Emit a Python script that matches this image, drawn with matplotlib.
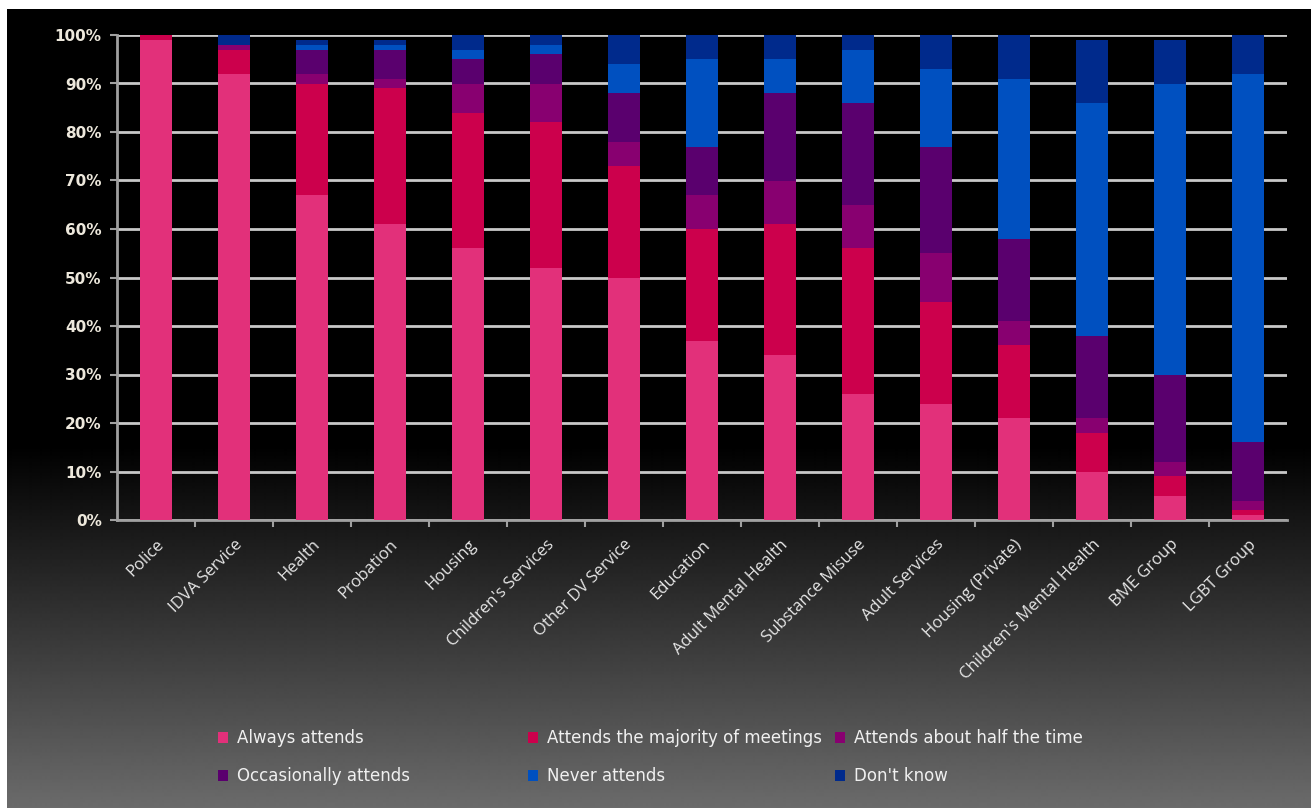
import numpy as np
import matplotlib
matplotlib.use("Agg")
import matplotlib.pyplot as plt
from matplotlib.patches import Patch
from matplotlib.ticker import FixedLocator, PercentFormatter

agencies = ["Police", "IDVA Service", "Health", "Probation", "Housing",
            "Children's Services", "Other DV Service", "Education",
            "Adult Mental Health", "Substance Misuse", "Adult Services",
            "Housing (Private)", "Children's Mental Health", "BME Group",
            "LGBT Group"]

always = [99, 92, 67, 61, 56, 52, 50, 37, 34, 26, 24, 21, 10, 5, 1]
majority = [1, 5, 23, 28, 28, 30, 23, 23, 27, 30, 21, 15, 8, 4, 1]
half = [0, 1, 2, 2, 6, 8, 5, 7, 9, 9, 10, 5, 3, 3, 2]
occasionally = [0, 0, 5, 6, 5, 6, 10, 10, 18, 21, 22, 17, 17, 18, 12]
never = [0, 0, 1, 1, 2, 2, 6, 18, 7, 11, 16, 33, 48, 60, 76]
dont_know = [0, 2, 1, 1, 3, 2, 6, 5, 5, 3, 7, 9, 13, 9, 8]

series = [
    ("Always attends", always, "#E2307A"),
    ("Attends the majority of meetings", majority, "#CC004C"),
    ("Attends about half the time", half, "#880070"),
    ("Occasionally attends", occasionally, "#5A006E"),
    ("Never attends", never, "#0050C0"),
    ("Don't know", dont_know, "#002A8C"),
]

W, H = 1311, 808
fig = plt.figure(figsize=(W / 100, H / 100), dpi=100, facecolor="white")

# dark gradient panel behind everything
bg = fig.add_axes([7 / W, 0, 1 - 7 / W, 1 - 9 / H], zorder=0)
rows = np.arange(9, H)
shade = np.clip((rows - 445) / (H - 445), 0, 1) * 0.42
grad = np.repeat(shade[:, None], 2, axis=1)
bg.imshow(grad, cmap="gray", vmin=0, vmax=1, aspect="auto",
          extent=[0, 1, 0, 1], interpolation="bilinear")
bg.set_axis_off()

ax = fig.add_axes([117 / W, 1 - 520 / H, (1287 - 117) / W, (520 - 35) / H], zorder=1)
ax.patch.set_alpha(0)

x = np.arange(len(agencies))
bottom = np.zeros(len(agencies))
for name, vals, col in series:
    ax.bar(x, vals, 0.4, bottom=bottom, color=col, label=name, zorder=3)
    bottom += np.array(vals)

ax.set_xlim(-0.5, len(agencies) - 0.5)
ax.set_ylim(0, 100)
ax.yaxis.set_major_locator(FixedLocator(np.arange(0, 101, 10)))
ax.yaxis.set_major_formatter(PercentFormatter(decimals=0))
ax.grid(axis="y", color="#C8C8C8", lw=2, zorder=1)

for s in ["top", "right"]:
    ax.spines[s].set_visible(False)
for s in ["left", "bottom"]:
    ax.spines[s].set_color("#A0A0A0")
    ax.spines[s].set_linewidth(2)

ax.set_xticks(x)
ax.set_xticklabels(agencies, rotation=45, ha="right", rotation_mode="anchor",
                   color="#E6E6E6", fontsize=12, family="Open Sans")
ax.tick_params(axis="x", length=0, pad=12)
ax.set_xticks(np.arange(0.5, len(agencies) - 0.5, 1), minor=True)
ax.tick_params(axis="x", which="minor", length=5, width=1.5, color="#A0A0A0")
ax.tick_params(axis="y", length=5, width=1.5, color="#A0A0A0", labelcolor="#EDE8DC",
               labelsize=11, pad=6)
for t in ax.get_yticklabels():
    t.set_fontweight("bold")

# legend: three columns placed like the original
cols = [[0, 3], [1, 4], [2, 5]]
xs = [210, 520, 827]
for xi, idx in zip(xs, cols):
    handles = [Patch(facecolor=series[i][2], label=series[i][0]) for i in idx]
    leg = fig.legend(handles=handles, loc="upper left",
                     bbox_to_anchor=(xi / W, 1 - 721 / H), frameon=False,
                     handlelength=0.6, handleheight=0.6, handletextpad=0.5,
                     labelspacing=1.2, borderpad=0,
                     prop={"family": "DejaVu Sans", "size": 12})
    for t in leg.get_texts():
        t.set_color("#F0F0F0")

fig.savefig("out.png", dpi=100, facecolor=fig.get_facecolor())
